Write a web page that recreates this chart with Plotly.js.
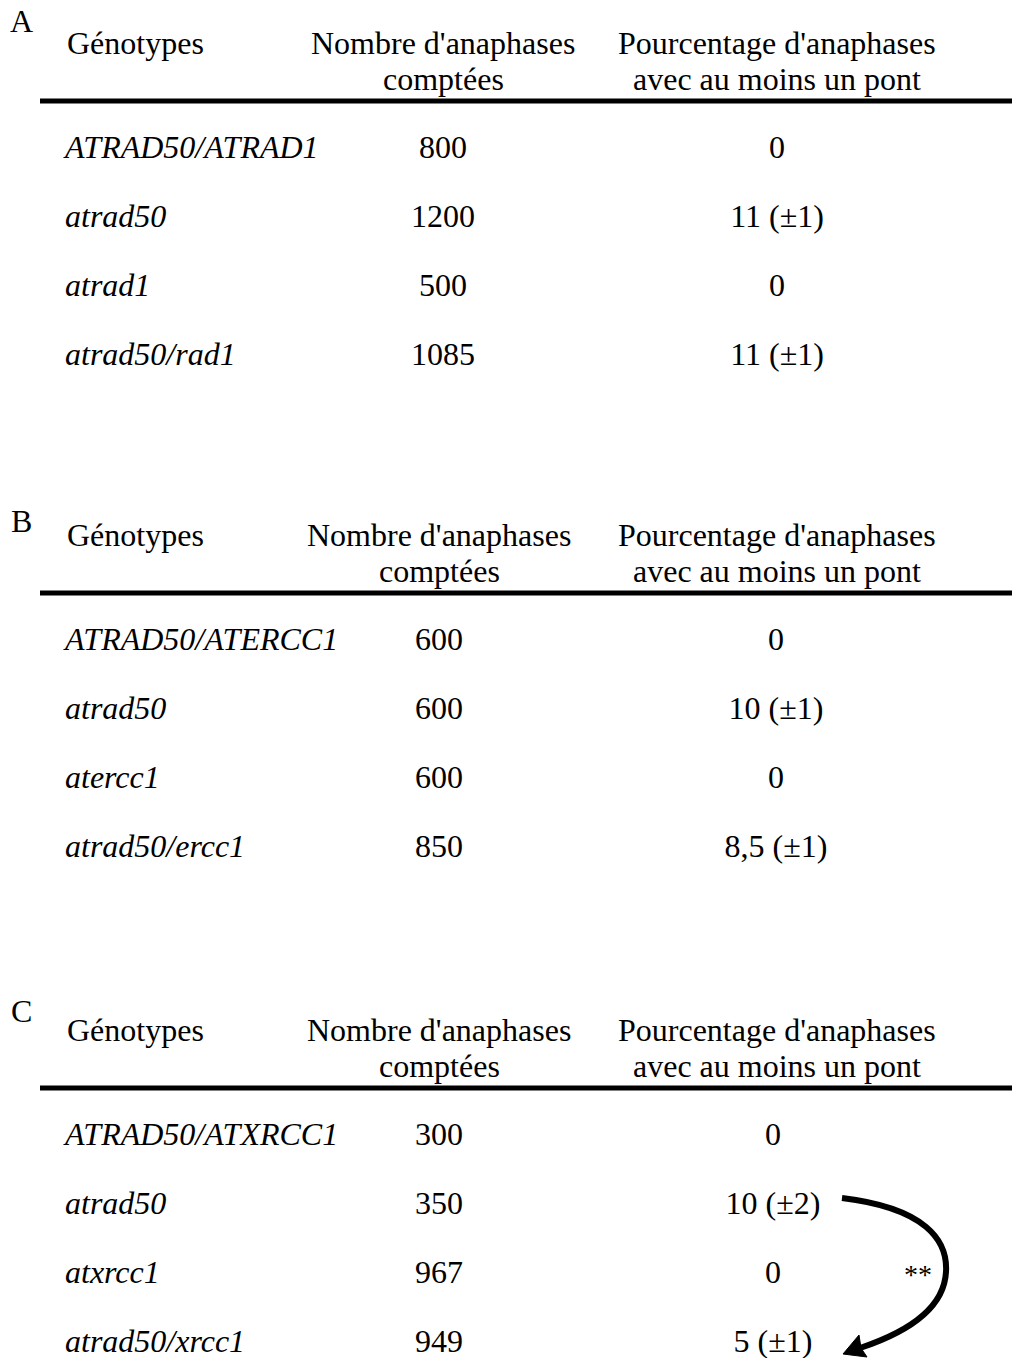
<!DOCTYPE html>
<html><head><meta charset="utf-8">
<script src="https://cdn.plot.ly/plotly-3.0.1.min.js"></script>
<style>html,body{margin:0;padding:0;background:#fff}#chart{width:1012px;height:1358px}</style>
</head><body><div id="chart"></div>
<script>
// ---- data ----
const panelLabels = ["A", "B", "C"];
const headerGenotype = "Génotypes";
const headerCount = ["Nombre d'anaphases", "comptées"];
const headerPercent = ["Pourcentage d'anaphases", "avec au moins un pont"];

const genotypesA = ["ATRAD50/ATRAD1", "atrad50", "atrad1", "atrad50/rad1"];
const countsA = ["800", "1200", "500", "1085"];
const percentA = ["0", "11 (±1)", "0", "11 (±1)"];

const genotypesB = ["ATRAD50/ATERCC1", "atrad50", "atercc1", "atrad50/ercc1"];
const countsB = ["600", "600", "600", "850"];
const percentB = ["0", "10 (±1)", "0", "8,5 (±1)"];

const genotypesC = ["ATRAD50/ATXRCC1", "atrad50", "atxrcc1", "atrad50/xrcc1"];
const countsC = ["300", "350", "967", "949"];
const percentC = ["0", "10 (±2)", "0", "5 (±1)"];
const significance = "**";

// ---- layout ----
const FONT = "Liberation Serif";
const FS = 32;
const panelTops = [0, 492, 987];
const labelYs = [21, 521, 1011];
const panels = [
  {g: genotypesA, c: countsA, p: percentA, cx: 443, px: 777},
  {g: genotypesB, c: countsB, p: percentB, cx: 439, px: 776},
  {g: genotypesC, c: countsC, p: percentC, cx: 439, px: 773}
];
const traces = [];
const shapes = [];
const annotations = [];
const f = (s) => ({family: FONT, size: s, color: "#000"});
panels.forEach((pn, i) => {
  const t = panelTops[i];
  annotations.push({x: 21, y: labelYs[i], text: panelLabels[i], showarrow: false, xanchor: "center", yanchor: "middle", font: f(FS)});
  annotations.push({x: 65, y: t + 43, text: headerGenotype, showarrow: false, xanchor: "left", yanchor: "middle", font: f(FS)});
  headerCount.forEach((h, k) => annotations.push({x: pn.cx, y: t + 43 + k * 36, text: h, showarrow: false, xanchor: "center", yanchor: "middle", font: f(FS)}));
  headerPercent.forEach((h, k) => annotations.push({x: 777, y: t + 43 + k * 36, text: h, showarrow: false, xanchor: "center", yanchor: "middle", font: f(FS)}));
  shapes.push({type: "line", x0: 40, x1: 1012, y0: t + 101, y1: t + 101, line: {color: "#000", width: 5}});
  const ys = pn.g.map((_, k) => t + 150 + k * 69);
  traces.push({x: pn.g.map(() => 65), y: ys, text: pn.g.map(s => "<i>" + s + "</i>"), mode: "text", type: "scatter", textposition: "middle right", textfont: f(FS), hoverinfo: "skip", cliponaxis: false});
  traces.push({x: pn.c.map(() => pn.cx), y: ys, text: pn.c, mode: "text", type: "scatter", textposition: "middle center", textfont: f(FS), hoverinfo: "skip", cliponaxis: false});
  traces.push({x: pn.p.map(() => pn.px), y: ys, text: pn.p, mode: "text", type: "scatter", textposition: "middle center", textfont: f(FS), hoverinfo: "skip", cliponaxis: false});
});
// arrow in panel C
shapes.push({type: "path", path: "M 842 1198 C 925 1208 948 1240 946 1272 C 944 1310 905 1333 860 1348", line: {color: "#000", width: 6}, fillcolor: "rgba(0,0,0,0)"});
shapes.push({type: "path", path: "M 843 1354 L 859 1335 L 861 1348 L 867 1357 Z", line: {color: "#000", width: 1}, fillcolor: "#000"});
annotations.push({x: 918, y: 1274, text: significance, showarrow: false, xanchor: "center", yanchor: "middle", font: f(28)});

const layout = {
  width: 1012, height: 1358,
  margin: {l: 0, r: 0, t: 0, b: 0},
  paper_bgcolor: "#fff", plot_bgcolor: "#fff",
  showlegend: false,
  xaxis: {range: [0, 1012], visible: false, fixedrange: true},
  yaxis: {range: [1358, 0], visible: false, fixedrange: true},
  shapes: shapes, annotations: annotations
};
Plotly.newPlot("chart", traces, layout, {staticPlot: true, displayModeBar: false});
</script></body></html>
